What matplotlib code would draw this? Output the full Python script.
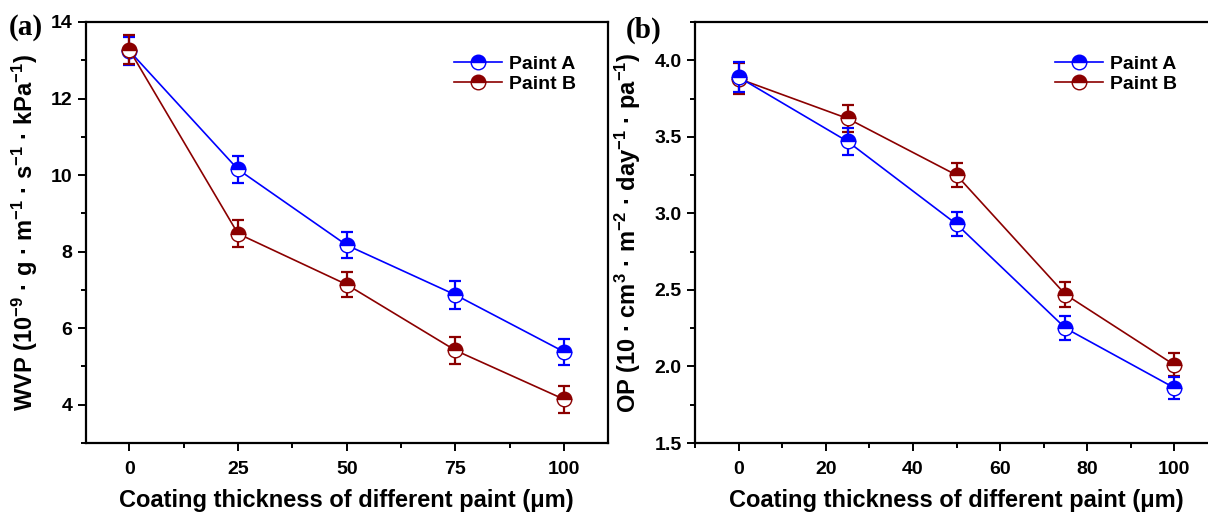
import matplotlib
matplotlib.use("Agg")
import matplotlib.pyplot as plt
from matplotlib.ticker import MultipleLocator, FormatStrFormatter

plt.rcParams["font.family"] = ["Liberation Sans", "DejaVu Sans"]
plt.rcParams["font.weight"] = "bold"
plt.rcParams["mathtext.fontset"] = "custom"
plt.rcParams["mathtext.bf"] = "Liberation Sans:bold"
plt.rcParams["mathtext.rm"] = "Liberation Sans:bold"
plt.rcParams["mathtext.default"] = "bf"

BLUE = "#0000ff"
RED = "#8b0000"

# ---- data ----
thickness = [0, 25, 50, 75, 100]

wvp_a = [13.25, 10.15, 8.17, 6.87, 5.38]
wvp_a_err = [0.37, 0.36, 0.33, 0.37, 0.35]
wvp_b = [13.28, 8.47, 7.14, 5.42, 4.14]
wvp_b_err = [0.37, 0.35, 0.32, 0.35, 0.35]

op_a = [3.89, 3.47, 2.93, 2.25, 1.86]
op_a_err = [0.10, 0.09, 0.08, 0.08, 0.07]
op_b = [3.88, 3.62, 3.25, 2.47, 2.01]
op_b_err = [0.10, 0.09, 0.08, 0.08, 0.075]

fig = plt.figure(figsize=(12.08, 5.16), dpi=100)
W, H = 1208, 516
ax1 = fig.add_axes([85.7 / W, (H - 443) / H, 522 / W, 421 / H])
ax2 = fig.add_axes([695 / W, (H - 443) / H, 523 / W, 421 / H])


def draw_series(ax, x, y, err, color, label, z):
    ax.errorbar(x, y, yerr=err, fmt="none", ecolor=color, elinewidth=1.6,
                capsize=4, capthick=1.6, zorder=z)
    line, = ax.plot(x, y, "-", color=color, lw=1.2, marker="o", ms=10.5,
                    fillstyle="top", markerfacecolor=color,
                    markerfacecoloralt="white", markeredgecolor=color,
                    markeredgewidth=1.0, label=label, zorder=z + 0.5)
    return line


def style_axes(ax):
    for sp in ax.spines.values():
        sp.set_linewidth(1.6)
        sp.set_color("black")
    ax.tick_params(which="both", direction="out", top=False, right=False,
                   width=1.4, labelsize=14)
    ax.tick_params(which="major", length=6)
    ax.tick_params(axis="x", which="major", pad=7)
    ax.tick_params(which="minor", length=3.5)
    for t in ax.get_xticklabels() + ax.get_yticklabels():
        t.set_fontweight("bold")
    ax.set_xlabel("Coating thickness of different paint (μm)", fontsize=17,
                  fontweight="bold", labelpad=8)


# ---- panel (a) ----
la = draw_series(ax1, thickness, wvp_a, wvp_a_err, BLUE, "Paint A", 3)
lb = draw_series(ax1, thickness, wvp_b, wvp_b_err, RED, "Paint B", 4)
ax1.set_xlim(-10, 110)
ax1.set_ylim(3, 14)
ax1.xaxis.set_major_locator(MultipleLocator(25))
ax1.xaxis.set_minor_locator(MultipleLocator(12.5))
ax1.yaxis.set_major_locator(MultipleLocator(2))
ax1.yaxis.set_minor_locator(MultipleLocator(1))
style_axes(ax1)
ax1.set_ylabel(r"WVP (10$^{-9}$ · g · m$^{-1}$ · s$^{-1}$ · kPa$^{-1}$)",
               fontsize=17, fontweight="bold", labelpad=8)
ax1.legend(handles=[la, lb], loc="upper left", bbox_to_anchor=(0.705, 0.92),
           frameon=False, handlelength=2.5, handletextpad=0.35,
           labelspacing=0.12, borderpad=0, borderaxespad=0,
           prop={"weight": "bold", "size": 14})

# ---- panel (b) ----
lb2 = draw_series(ax2, thickness, op_b, op_b_err, RED, "Paint B", 3)
la2 = draw_series(ax2, thickness, op_a, op_a_err, BLUE, "Paint A", 4)
ax2.set_xlim(-10, 110)
ax2.set_ylim(1.5, 4.25)
ax2.xaxis.set_major_locator(MultipleLocator(20))
ax2.xaxis.set_minor_locator(MultipleLocator(10))
ax2.yaxis.set_major_locator(MultipleLocator(0.5))
ax2.yaxis.set_minor_locator(MultipleLocator(0.25))
ax2.yaxis.set_major_formatter(FormatStrFormatter("%.1f"))
style_axes(ax2)
ax2.set_ylabel(r"OP (10 · cm$^{3}$ · m$^{-2}$ · day$^{-1}$ · pa$^{-1}$)",
               fontsize=17, fontweight="bold", labelpad=8)
ax2.legend(handles=[la2, lb2], loc="upper left", bbox_to_anchor=(0.688, 0.92),
           frameon=False, handlelength=2.5, handletextpad=0.35,
           labelspacing=0.12, borderpad=0, borderaxespad=0,
           prop={"weight": "bold", "size": 14})

# panel letters
fig.text(9 / W, 1 - 14 / H, "(a)", family=["Liberation Serif"], fontsize=21,
         fontweight="bold", va="top", ha="left")
fig.text(626 / W, 1 - 17 / H, "(b)", family=["Liberation Serif"], fontsize=21,
         fontweight="bold", va="top", ha="left")

fig.savefig("out.png", dpi=100, facecolor="white")
